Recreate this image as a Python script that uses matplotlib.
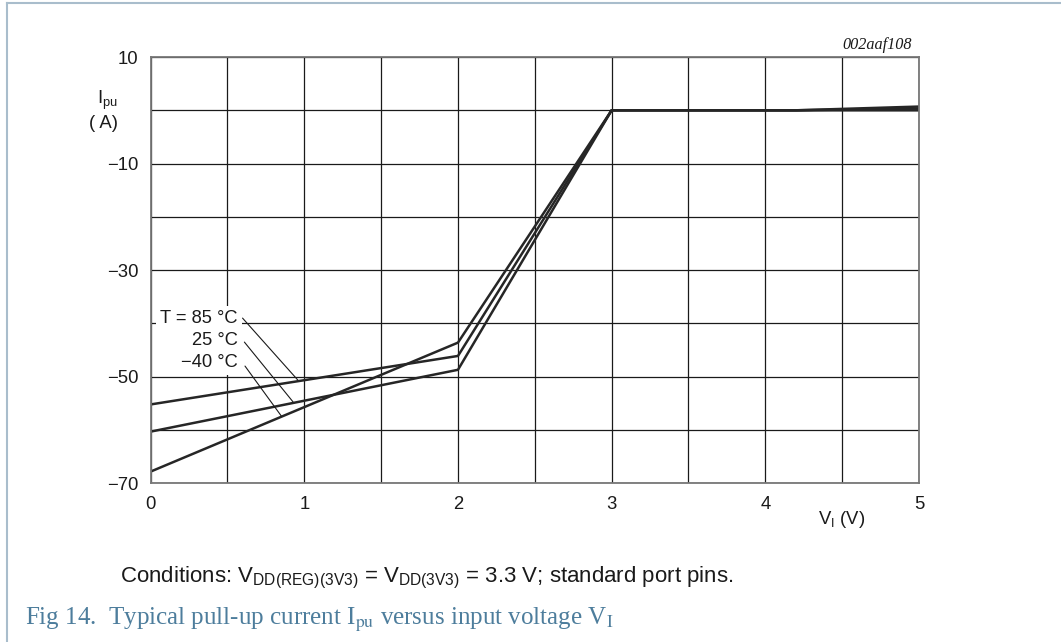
import matplotlib
matplotlib.use("Agg")
import matplotlib.pyplot as plt
from matplotlib.lines import Line2D

plt.rcParams['font.family'] = ['Liberation Sans', 'DejaVu Sans']
plt.rcParams['mathtext.fontset'] = 'custom'
plt.rcParams['mathtext.rm'] = 'Liberation Sans'
plt.rcParams['mathtext.it'] = 'Liberation Sans:italic'

# input voltage V_I (V)
v_in = [0, 2, 3, 4.2, 5]
# pull-up current I_pu per temperature
i_85 = [-55.2, -46.1, 0.0, 0.0, 0.35]
i_25 = [-60.3, -48.7, 0.0, 0.0, 0.0]
i_m40 = [-67.8, -43.6, 0.0, 0.0, 0.7]

y_ticks = [10, -10, -30, -50, -70]
temp_labels = ["T = 85 °C", "25 °C", "\u221240 °C"]

# leader lines from the labels to the curves (label end, curve end)
leaders = [((0.598, -39.0), (0.957, -50.6)),
           ((0.610, -43.5), (0.926, -54.7)),
           ((0.614, -48.0), (0.851, -57.4))]

fig = plt.figure(figsize=(10.61, 6.42), dpi=100)
ax = fig.add_axes([0.1420, 0.2472, 0.7241, 0.6640])

for vals in (i_85, i_25, i_m40):
    ax.plot(v_in, vals, color='#262626', lw=1.8, solid_capstyle='butt', zorder=2)

ax.set_xlim(0, 5)
ax.set_ylim(-70, 10)
# grid every 0.5 V, labels on whole volts
ax.set_xticks([x / 2 for x in range(11)])
ax.set_xticklabels([str(x // 2) if x % 2 == 0 else "" for x in range(11)])
# grid every 10, labels every 20
ax.set_yticks(range(10, -71, -10))
ax.set_yticklabels([("\u2212" + str(-v) if v < 0 else str(v)) if v in y_ticks else ""
                    for v in range(10, -71, -10)])
ax.grid(True, color='#1a1a1a', lw=0.9)
ax.set_axisbelow(True)
ax.tick_params(length=0, labelsize=13.3, pad=9, colors='#1a1a1a')
for s in ax.spines.values():
    s.set_color('#777777')
    s.set_linewidth(1.3)

ax.text(0.567, -43.2, "\n".join(temp_labels), ha='right', va='center',
        multialignment='right', fontsize=13.2, linespacing=1.38, color='#1a1a1a',
        bbox=dict(fc='white', ec='none', pad=3), zorder=3)
for (p0, p1) in leaders:
    ax.annotate("", xy=p1, xytext=p0,
                arrowprops=dict(arrowstyle='-', color='#1a1a1a', lw=0.8,
                                shrinkA=0, shrinkB=0))

H = 642.0
W = 1061.0
fig.text(118 / W, 1 - 100 / H, r"I$_{\mathrm{pu}}$", ha='right', va='center',
         fontsize=13.3, color='#1a1a1a')
fig.text(118 / W, 1 - 123 / H, "( A)", ha='right', va='center',
         fontsize=13.3, color='#1a1a1a')
fig.text(818 / W, 1 - 520 / H, r"V$_{\mathrm{I}}$ (V)", ha='left', va='center',
         fontsize=13.3, color='#1a1a1a')
fig.text(912 / W, 1 - 45 / H, "002aaf108", ha='right', va='center',
         fontsize=11.7, style='italic', family='Liberation Serif', color='#1a1a1a')

fig.text(120 / W, 1 - 578 / H,
         r"Conditions: V$_{\mathrm{DD(REG)(3V3)}}$ = V$_{\mathrm{DD(3V3)}}$ = 3.3 V; standard port pins.",
         ha='left', va='center', fontsize=16, color='#1a1a1a')
fig.text(25 / W, 1 - 620 / H,
         r"Fig 14.  Typical pull-up current I$_{\mathrm{pu}}$ versus input voltage V$_{\mathrm{I}}$",
         ha='left', va='center', fontsize=18, family='Liberation Serif',
         math_fontfamily='stix', color='#4d7d9c')

# page frame
frame_col = '#a9bdcc'
fig.add_artist(Line2D([7 / W, 7 / W], [0, 1 - 3 / H], color=frame_col, lw=1.5))
fig.add_artist(Line2D([7 / W, 1], [1 - 3 / H, 1 - 3 / H], color=frame_col, lw=1.5))

fig.savefig("out.png", dpi=100)
